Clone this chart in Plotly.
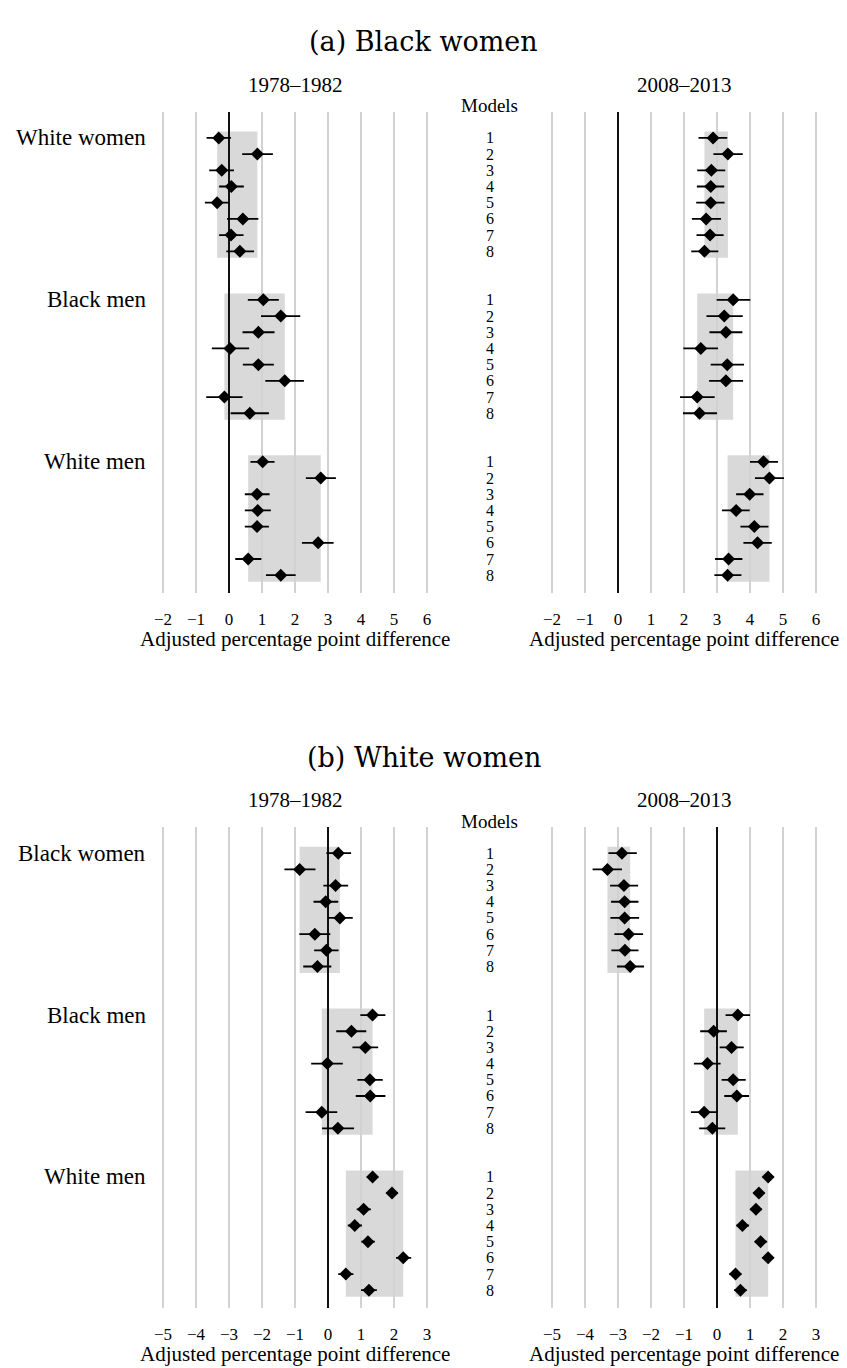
import plotly.graph_objects as go

W, H = 847, 1368

models = [1, 2, 3, 4, 5, 6, 7, 8]
groups_a = ["White women", "Black men", "White men"]
groups_b = ["Black women", "Black men", "White men"]
periods = ["1978–1982", "2008–2013"]
titles = ["(a) Black women", "(b) White women"]

# Panel (a), 1978-1982
a78_est = [-0.31, 0.86, -0.22, 0.07, -0.36, 0.42, 0.06, 0.33,
           1.04, 1.57, 0.89, 0.03, 0.89, 1.69, -0.14, 0.63,
           1.02, 2.78, 0.85, 0.87, 0.85, 2.70, 0.58, 1.57]
a78_lo = [-0.68, 0.40, -0.60, -0.30, -0.73, -0.06, -0.30, -0.08,
          0.57, 0.97, 0.41, -0.52, 0.42, 1.10, -0.69, 0.05,
          0.65, 2.33, 0.48, 0.48, 0.48, 2.21, 0.19, 1.12]
a78_hi = [0.06, 1.33, 0.15, 0.45, 0.00, 0.89, 0.44, 0.76,
          1.51, 2.16, 1.38, 0.61, 1.36, 2.27, 0.41, 1.21,
          1.38, 3.24, 1.23, 1.27, 1.21, 3.17, 0.98, 2.02]
# Panel (a), 2008-2013
a08_est = [2.88, 3.33, 2.83, 2.81, 2.81, 2.67, 2.79, 2.62,
           3.49, 3.22, 3.27, 2.51, 3.31, 3.27, 2.40, 2.47,
           4.41, 4.59, 3.99, 3.58, 4.13, 4.23, 3.35, 3.32]
a08_lo = [2.44, 2.89, 2.40, 2.39, 2.37, 2.24, 2.38, 2.22,
          2.99, 2.68, 2.77, 1.98, 2.81, 2.76, 1.88, 1.97,
          4.00, 4.15, 3.58, 3.15, 3.71, 3.80, 2.94, 2.92]
a08_hi = [3.31, 3.78, 3.25, 3.22, 3.23, 3.12, 3.20, 3.04,
          4.01, 3.78, 3.77, 3.03, 3.82, 3.79, 2.93, 3.00,
          4.85, 5.03, 4.41, 3.99, 4.56, 4.66, 3.77, 3.74]
# Panel (b), 1978-1982
b78_est = [0.31, -0.86, 0.23, -0.07, 0.36, -0.40, -0.05, -0.32,
           1.35, 0.71, 1.13, -0.02, 1.27, 1.28, -0.19, 0.30,
           1.35, 1.94, 1.08, 0.81, 1.21, 2.28, 0.54, 1.24]
b78_lo = [-0.05, -1.32, -0.14, -0.44, 0.00, -0.87, -0.42, -0.75,
          0.98, 0.25, 0.74, -0.51, 0.89, 0.84, -0.68, -0.18,
          1.18, 1.76, 0.87, 0.60, 1.01, 2.06, 0.31, 1.00]
b78_hi = [0.70, -0.38, 0.61, 0.31, 0.75, 0.07, 0.32, 0.10,
          1.74, 1.16, 1.52, 0.45, 1.66, 1.74, 0.28, 0.79,
          1.52, 2.12, 1.30, 1.03, 1.42, 2.52, 0.77, 1.48]
# Panel (b), 2008-2013
b08_est = [-2.88, -3.32, -2.82, -2.80, -2.80, -2.68, -2.79, -2.63,
           0.63, -0.10, 0.44, -0.29, 0.49, 0.60, -0.39, -0.14,
           1.55, 1.27, 1.18, 0.77, 1.32, 1.55, 0.56, 0.71]
b08_lo = [-3.29, -3.77, -3.24, -3.21, -3.23, -3.11, -3.20, -3.03,
          0.26, -0.51, 0.08, -0.70, 0.14, 0.22, -0.79, -0.54,
          1.39, 1.10, 1.01, 0.59, 1.14, 1.37, 0.37, 0.52]
b08_hi = [-2.43, -2.88, -2.39, -2.38, -2.36, -2.24, -2.38, -2.21,
          1.00, 0.30, 0.81, 0.11, 0.87, 0.97, 0.00, 0.25,
          1.72, 1.44, 1.36, 0.97, 1.52, 1.72, 0.74, 0.90]

xticks_a = [-2, -1, 0, 1, 2, 3, 4, 5, 6]
xticks_b = [-5, -4, -3, -2, -1, 0, 1, 2, 3]
xlabel = "Adjusted percentage point difference"

SERIF = "'Liberation Serif', 'Times New Roman', Times, serif"
TITLE_FONT = "'DejaVu Serif', serif"

def px_x(p):
    return p / W

def px_y(p):
    return 1 - p / H

# model positions on the y axis
pos = [10 * g + m for g in range(3) for m in models]

fig = go.Figure()

series = [
    (a78_est, a78_lo, a78_hi, 1),
    (a08_est, a08_lo, a08_hi, 2),
    (b78_est, b78_lo, b78_hi, 3),
    (b08_est, b08_lo, b08_hi, 4),
]

xdom_left = [px_x(154.75), px_x(435.25)]
xdom_right = [px_x(543.75), px_x(824.25)]
ydom_a = [px_y(592.7), px_y(112.0)]
ydom_b = [px_y(1307.7), px_y(827.3)]
yrange = [29.08, -0.6]

layout = dict(
    width=W, height=H, margin=dict(l=0, r=0, t=0, b=0),
    paper_bgcolor="white", plot_bgcolor="white", showlegend=False,
    font=dict(family=SERIF, color="black"),
)
shapes = []
annotations = []

for est, lo, hi, k in series:
    sfx = "" if k == 1 else str(k)
    xa = "x" + sfx
    ya = "y" + sfx
    fig.add_trace(go.Scatter(
        x=est, y=pos, mode="markers", xaxis=xa, yaxis=ya,
        marker=dict(symbol="diamond", size=10, color="black"),
        error_x=dict(type="data", symmetric=False,
                     array=[h - e for h, e in zip(hi, est)],
                     arrayminus=[e - l for e, l in zip(est, lo)],
                     thickness=1.8, width=0, color="black"),
        hoverinfo="skip",
    ))
    for g in range(3):
        seg = est[8 * g:8 * g + 8]
        shapes.append(dict(type="rect", xref=xa, yref=ya,
                           x0=min(seg), x1=max(seg),
                           y0=10 * g + 0.6, y1=10 * g + 8.4,
                           fillcolor="#d9d9d9", line=dict(width=0), layer="below"))
    panel_a = k in (1, 2)
    ticks = xticks_a if panel_a else xticks_b
    xr = [-2.25, 6.25] if panel_a else [-5.25, 3.25]
    layout["xaxis" + sfx] = dict(
        domain=xdom_left if k in (1, 3) else xdom_right,
        range=xr, anchor=ya, tickvals=ticks,
        showgrid=True, gridcolor="#d2d2d2", gridwidth=1.5,
        zeroline=True, zerolinecolor="#111111", zerolinewidth=1.8,
        showline=False, ticks="outside", ticklen=11, tickcolor="rgba(0,0,0,0)",
        tickfont=dict(family=SERIF, size=17, color="black"),
        fixedrange=True,
    )
    layout["yaxis" + sfx] = dict(
        domain=ydom_a if panel_a else ydom_b,
        range=yrange, anchor=xa, showgrid=False, zeroline=False,
        showticklabels=False, showline=False, ticks="", fixedrange=True,
    )

for p, (title, groups, ya, base) in enumerate([
        (titles[0], groups_a, "y", 0),
        (titles[1], groups_b, "y3", 715)]):
    annotations.append(dict(text=title, x=0.5, y=px_y(42 + base), xref="paper", yref="paper",
                            showarrow=False, xanchor="center", yanchor="middle",
                            font=dict(family=TITLE_FONT, size=27, color="black")))
    for cx, per in zip([295, 684], periods):
        annotations.append(dict(text=per, x=px_x(cx), y=px_y(85 + base), xref="paper", yref="paper",
                                showarrow=False, xanchor="center", yanchor="middle",
                                font=dict(family=SERIF, size=21, color="black")))
        annotations.append(dict(text=xlabel, x=px_x(cx), y=px_y(639 + base), xref="paper", yref="paper",
                                showarrow=False, xanchor="center", yanchor="middle",
                                font=dict(family=SERIF, size=21, color="black")))
    annotations.append(dict(text="Models", x=px_x(490), y=px_y(106 + base), xref="paper", yref="paper",
                            showarrow=False, xanchor="center", yanchor="middle",
                            font=dict(family=SERIF, size=19, color="black")))
    for g, gname in enumerate(groups):
        annotations.append(dict(text=gname, x=px_x(148), y=10 * g + 1, xref="paper", yref=ya,
                                showarrow=False, xanchor="right", yanchor="middle",
                                font=dict(family=SERIF, size=23, color="black")))
        for m in models:
            annotations.append(dict(text=str(m), x=px_x(490), y=10 * g + m, xref="paper", yref=ya,
                                    showarrow=False, xanchor="center", yanchor="middle",
                                    font=dict(family=SERIF, size=16, color="black")))

layout["shapes"] = shapes
layout["annotations"] = annotations
fig.update_layout(**layout)
fig.write_html("out.html")
